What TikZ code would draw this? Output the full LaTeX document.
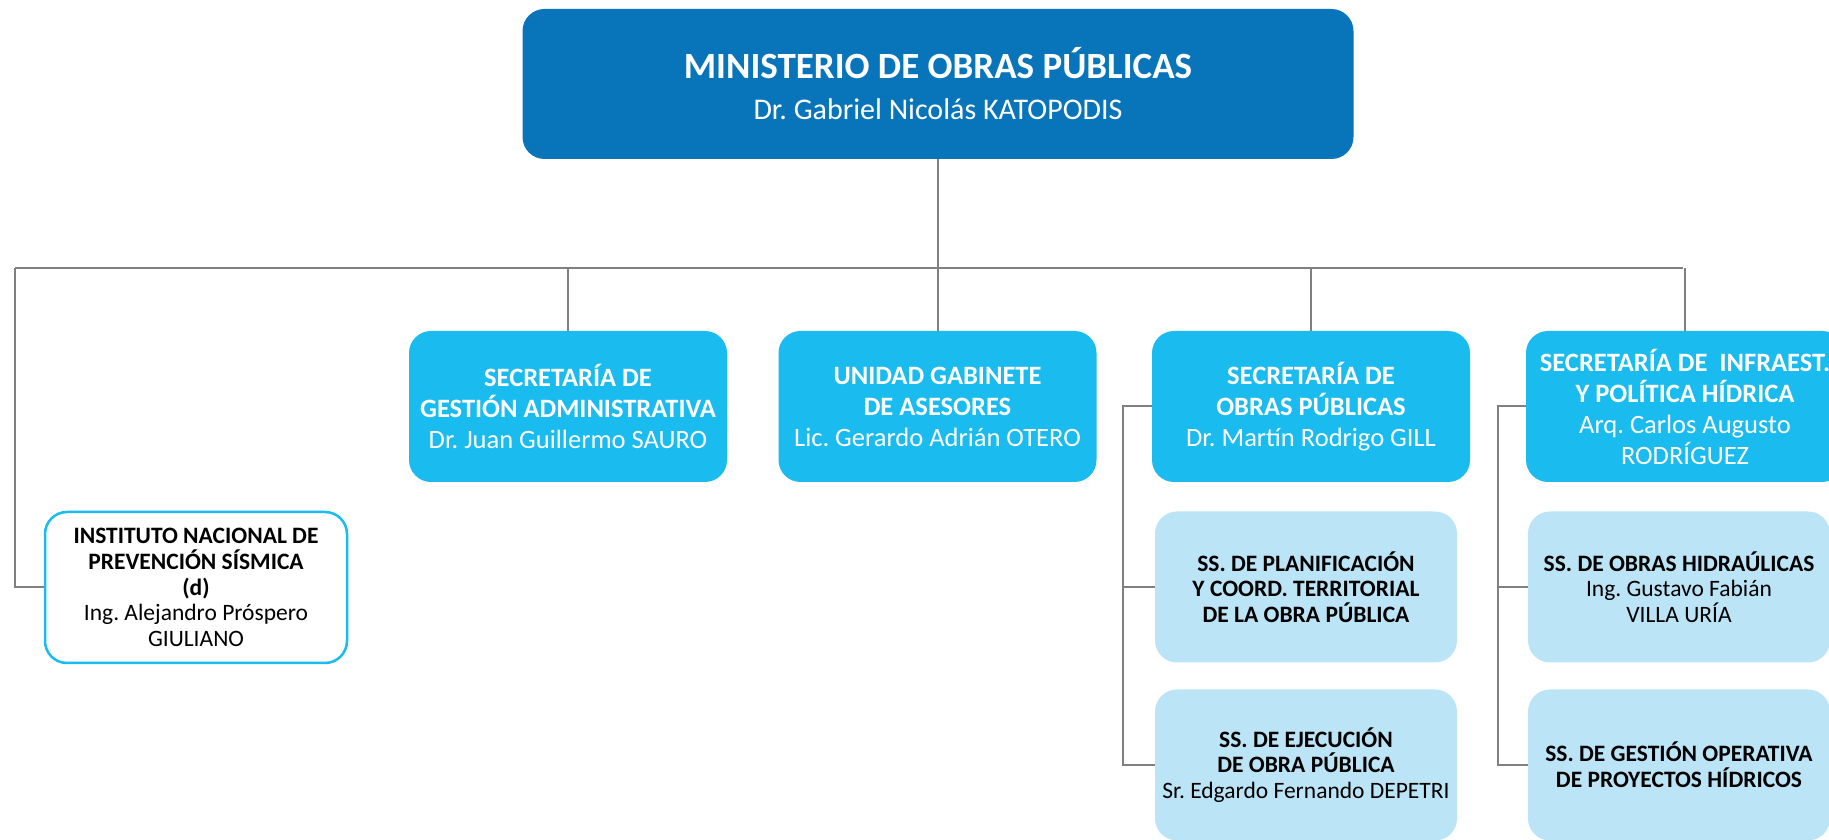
\documentclass[tikz,border=0pt]{standalone}
\usepackage{fontspec}
\setmainfont{Carlito}
\usepackage{tikz}
\usetikzlibrary{
    positioning,
    calc
}
\definecolor{ministry blue}{RGB}{8,116,186}
\definecolor{secretary cyan}{RGB}{26,187,238}
\definecolor{undersec blue}{RGB}{187,229,246}
\definecolor{org gray}{RGB}{128,128,128}
\tikzset{
    % Boxes
    orgbox/.style={rounded corners=22pt,inner sep=0pt,align=center},
    ministry/.style={orgbox,fill=ministry blue,text=white,
        minimum width=831pt,minimum height=150pt,font=\fontsize{30}{41}\selectfont},
    secretary/.style={orgbox,fill=secretary cyan,text=white,
        minimum width=318pt,minimum height=151pt,font=\fontsize{26.5}{31}\selectfont},
    undersec/.style={orgbox,fill=undersec blue,text=black,
        minimum width=302pt,minimum height=151pt,font=\fontsize{23.5}{25.7}\selectfont},
    institute/.style={orgbox,draw=secretary cyan,line width=2.5pt,fill=white,text=black,
        minimum width=302pt,minimum height=151pt,font=\fontsize{23.5}{25.7}\selectfont},
    %
    % Lines
    org line/.style={draw=org gray,line width=2pt}
}
\frenchspacing

\begin{document}
\begin{tikzpicture}[x=1pt,y=1pt]
    \clip (0,0) rectangle (1829,840);
    \useasboundingbox (0,0) rectangle (1829,840);

    \node[ministry] (minister) at (938,756)
        {{\fontsize{37}{41}\selectfont\bfseries MINISTERIO DE OBRAS PÚBLICAS}\\Dr. Gabriel Nicolás KATOPODIS};

    % secretarias
    \node[secretary] (sga) at (568,433.5)
        {\bfseries SECRETARÍA DE\\\bfseries GESTIÓN ADMINISTRATIVA\\Dr. Juan Guillermo SAURO};
    \node[secretary] (uga) at (937.5,433.5)
        {\bfseries UNIDAD GABINETE\\\bfseries DE ASESORES\\Lic. Gerardo Adrián OTERO};
    \node[secretary] (sop) at (1311,433.5)
        {\bfseries SECRETARÍA DE\\\bfseries OBRAS PÚBLICAS\\Dr. Martín Rodrigo GILL};
    \node[secretary] (siph) at (1685,433.5)
        {\bfseries SECRETARÍA DE\ \ INFRAEST.\\\bfseries Y POLÍTICA HÍDRICA\\Arq. Carlos Augusto\\RODRÍGUEZ};

    \node[institute] (inps) at (196,252.5)
        {\bfseries INSTITUTO NACIONAL DE\\\bfseries PREVENCIÓN SÍSMICA\\\bfseries (d)\\Ing. Alejandro Próspero\\GIULIANO};

    % subsecretarias
    \node[undersec] (ssplan) at (1306,253)
        {\bfseries SS. DE PLANIFICACIÓN\\\bfseries Y COORD. TERRITORIAL\\\bfseries DE LA OBRA PÚBLICA};
    \node[undersec] (ssejec) at (1306,75)
        {\bfseries SS. DE EJECUCIÓN\\\bfseries DE OBRA PÚBLICA\\Sr. Edgardo Fernando DEPETRI};
    \node[undersec] (sshidr) at (1679,253)
        {\bfseries SS. DE OBRAS HIDRAÚLICAS\\Ing. Gustavo Fabián\\VILLA URÍA};
    \node[undersec] (ssgest) at (1679,75)
        {\bfseries SS. DE GESTIÓN OPERATIVA\\\bfseries DE PROYECTOS HÍDRICOS};

    % connectors
    \coordinate (bus west) at (15,572);
    \coordinate (bus east) at (1683,572);
    \coordinate (sop rail) at (1123,0);
    \coordinate (siph rail) at (1498,0);

    \draw[org line] (minister.south) -- (minister.south |- bus west);
    \draw[org line] (bus west) -- (bus east);
    \foreach \n in {sga,uga,sop,siph}{
        \draw[org line] (\n.north |- bus west) -- (\n.north);
    }
    \draw[org line] (bus west) |- (inps.west);

    \draw[org line] (sop.west) -- (sop.west -| sop rail) |- (ssejec.west);
    \draw[org line] (ssplan.west -| sop rail) -- (ssplan.west);
    \draw[org line] (siph.west) -- (siph.west -| siph rail) |- (ssgest.west);
    \draw[org line] (sshidr.west -| siph rail) -- (sshidr.west);
\end{tikzpicture}
\end{document}
